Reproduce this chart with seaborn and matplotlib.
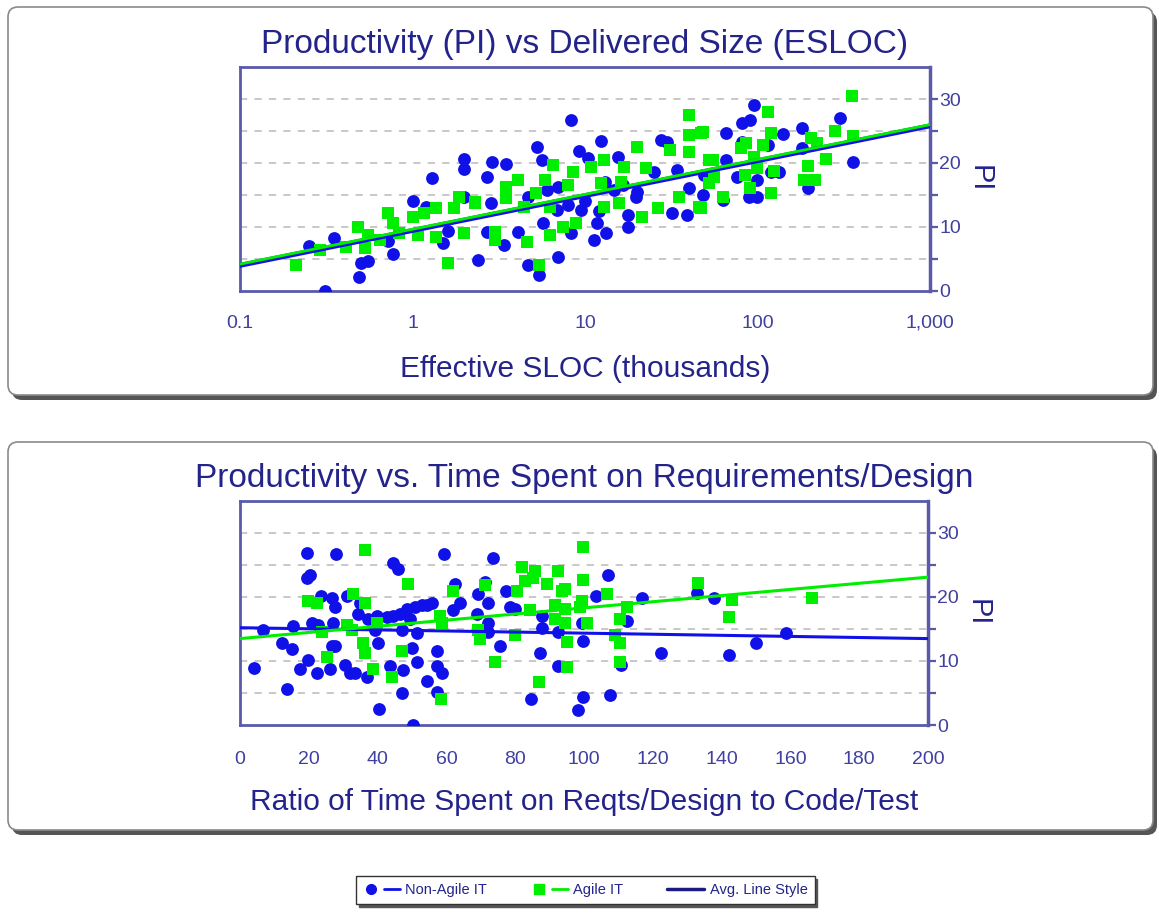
import numpy as np
import matplotlib
matplotlib.use("Agg")
import matplotlib.pyplot as plt
from matplotlib.patches import FancyBboxPatch
from matplotlib.lines import Line2D
from matplotlib.legend_handler import HandlerTuple
from matplotlib.ticker import FuncFormatter, FixedLocator, LogLocator
import seaborn as sns

# --- data ---
# top panel: effective SLOC (thousands) vs PI
nonagile_size = [0.25, 0.35, 0.31, 0.49, 0.50, 0.55, 0.72, 0.77, 1.0, 1.29, 1.2, 1.5, 1.6, 2.0, 2.0, 2.4, 2.0,
                 8.3, 5.3, 2.9, 3.5, 2.7, 5.6, 9.2, 12.3, 10.4, 15.5, 27.5, 30, 4.7, 5.4, 7.0, 2.7, 3.4, 4.1,
                 5.7, 6.9, 8.3, 11.3, 13.2, 11.8, 9.5, 17.7, 17.7, 19.7, 32, 39, 40, 2.85, 4.7, 7.0, 14.7, 25, 34,
                 95, 90, 81, 66, 140, 180, 300, 360, 81, 115, 180, 66, 49, 76, 100, 134, 120, 195, 63, 89, 100, 48,
                 6.0, 10.0, 13.0, 16.5, 20, 8.0, 12]
nonagile_pi_size = [7.0, 8.3, 0.0, 2.2, 4.4, 4.7, 7.8, 5.8, 14.0, 17.6, 13.1, 7.5, 9.4, 20.6, 19.1, 4.8, 14.7,
                    26.7, 22.5, 20.2, 19.8, 17.8, 20.5, 21.9, 23.4, 20.8, 21.0, 23.6, 23.3, 4.1, 2.5, 5.3, 9.2, 7.2, 9.2,
                    10.6, 12.7, 9.1, 8.0, 9.1, 10.6, 12.7, 10.0, 11.9, 14.7, 12.2, 11.9, 16.1, 13.8, 14.7, 16.3, 15.8, 18.6, 18.9,
                    29.1, 26.7, 26.3, 24.7, 24.5, 25.5, 27.0, 20.2, 23.3, 22.8, 22.3, 20.5, 18.1, 17.8, 17.3, 18.6, 18.6, 16.1, 14.2, 14.7, 14.7, 15.0,
                    15.8, 14.0, 17.0, 16.5, 15.5, 13.5, 12.5]

agile_size = [0.21, 0.29, 0.41, 0.48, 0.53, 0.55, 0.65, 0.72, 0.77, 0.83, 1.0, 1.07, 1.17, 1.37, 1.37, 1.6, 1.73, 1.85, 1.98, 2.3,
              40, 47, 40, 40, 20, 31, 12.9, 6.5, 8.5, 10.8, 16.9, 22.5, 4.1, 3.5, 5.9, 8.0, 12.3, 16.2, 2.3, 5.2, 4.4,
              12.9, 15.8, 26.5, 46, 21.5, 35, 3.0, 3.0, 4.6, 6.3, 7.5, 8.9, 5.4, 3.5, 6.3, 52,
              355, 115, 48, 280, 360, 120, 86, 80, 108, 205, 220, 55, 96, 250, 195, 56, 85, 125, 52, 90, 185, 215, 120, 63, 47, 100]
agile_pi_size = [4.1, 6.4, 6.9, 10.0, 6.7, 8.8, 8.0, 12.2, 10.6, 9.0, 11.6, 8.8, 12.2, 13.0, 8.4, 4.4, 13.0, 14.7, 9.1, 13.8,
                 27.5, 24.7, 24.4, 21.7, 22.5, 22.0, 20.5, 19.7, 18.6, 19.4, 19.4, 19.2, 17.3, 16.3, 17.3, 16.6, 16.9, 17.0, 13.9, 15.3, 13.1,
                 13.1, 13.8, 13.0, 13.1, 11.6, 14.7, 9.2, 8.0, 7.7, 8.8, 10.0, 10.6, 4.1, 14.5, 13.1, 20.5,
                 30.5, 28.0, 24.8, 25.0, 24.2, 24.7, 23.1, 22.3, 22.8, 23.9, 23.1, 20.5, 21.0, 20.6, 19.5, 17.8, 18.1, 18.8, 16.9, 16.1, 17.3, 17.3, 15.3, 14.7, 13.0, 19.2]

# bottom panel: ratio reqts/design to code/test vs PI
nonagile_ratio = [4.1, 6.8, 13.6, 12.3, 15.0, 15.5, 19.4, 19.4, 20.3, 17.4, 19.8, 22.4, 20.9, 22.7, 23.5, 26.7, 27.6, 27.9,
                  26.2, 26.7, 27.6, 27.0, 31.1, 30.5, 32.0, 33.4, 34.9, 34.3, 36.9, 37.2, 39.8, 39.2, 40.1, 40.4, 42.7,
                  44.5, 44.5, 45.9, 43.6, 47.1, 46.5, 48.5, 49.4, 47.4, 50.0, 47.1, 50.3, 51.5, 51.5, 50.9, 52.9, 54.4,
                  55.8, 54.4, 57.3, 57.3, 57.3, 58.7, 59.3, 62.5, 61.9, 64.0, 68.9, 69.2, 71.2, 72.1, 72.1, 72.1, 73.5,
                  75.6, 77.3, 78.5, 80.0, 87.8, 87.8, 87.2, 84.6, 92.4, 92.4, 99.4, 99.7, 98.3, 99.7, 107, 103.5, 107.6,
                  112.5, 110.8, 116.9, 122.4, 132.8, 137.8, 142.2, 150, 158.7]
nonagile_pi_ratio = [8.9, 14.8, 5.7, 12.8, 11.8, 15.4, 26.9, 22.9, 23.5, 8.7, 10.1, 8.2, 15.9, 15.6, 20.1, 19.9, 18.5, 26.7,
                     8.7, 12.4, 12.4, 15.9, 20.2, 9.3, 8.1, 8.1, 19.1, 17.4, 7.5, 16.6, 17.1, 14.8, 12.8, 2.5, 16.8,
                     17.1, 25.3, 24.4, 9.2, 14.8, 17.4, 18.2, 16.6, 8.6, 12.1, 5.0, 0.0, 9.8, 14.3, 18.4, 18.7, 18.7,
                     19.1, 6.8, 5.1, 11.5, 9.2, 8.1, 26.7, 22.1, 18.0, 19.0, 17.4, 20.5, 22.4, 19.0, 16.0, 14.5, 26.1,
                     12.4, 21.0, 18.4, 18.2, 17.1, 15.2, 11.2, 4.0, 14.5, 9.2, 16.0, 13.2, 2.3, 4.4, 23.5, 20.2, 4.7,
                     16.2, 9.3, 19.9, 11.2, 20.7, 19.8, 10.9, 12.8, 14.3]

agile_ratio = [19.8, 22.4, 25.3, 23.8, 31.1, 32.6, 32.8, 36.3, 36.3, 35.8, 36.3, 38.7, 39.8, 44.2, 47.1, 48.8, 58.1, 58.7,
               58.4, 61.9, 69.2, 69.8, 71.2, 74.1, 80.0, 80.5, 82.0, 82.8, 85.8, 85.2, 89.2, 92.4, 86.9, 84.3, 93.6,
               94.5, 91.6, 94.5, 91.6, 94.5, 95.1, 95.1, 99.7, 99.7, 99.4, 98.8, 106.7, 101, 110.5, 110.5, 110.5,
               112.5, 109, 133.1, 143, 142.2, 166.3]
agile_pi_ratio = [19.4, 19.1, 10.6, 14.5, 15.6, 14.8, 20.5, 27.4, 19.1, 12.8, 11.2, 8.7, 15.9, 7.5, 11.5, 22.1, 17.1, 15.9,
                  4.0, 21.0, 14.8, 13.5, 21.8, 9.8, 14.0, 21.0, 24.7, 22.5, 24.1, 22.9, 22.1, 24.1, 6.7, 17.9, 21.0,
                  21.3, 18.7, 18.2, 16.6, 15.9, 12.9, 9.0, 27.8, 22.7, 19.4, 18.4, 20.5, 16.0, 16.6, 12.8, 9.8,
                  18.5, 14.0, 22.2, 19.6, 16.8, 19.8]

# average lines (end points)
avg_size_x = [0.1, 1000]
avg_nonagile_size = [4.0, 25.8]
avg_agile_size = [4.2, 26.0]
avg_ratio_x = [0, 200]
avg_nonagile_ratio = [15.2, 13.5]
avg_agile_ratio = [13.5, 23.1]

BLUE = "#1010e8"
GREEN = "#00ee00"
AXC = "#5a5aa8"
TXT = "#23238a"
TICKTXT = "#4040a0"

sns.set_style("white")
plt.rcParams["font.family"] = ["Liberation Sans", "DejaVu Sans"]

fig = plt.figure(figsize=(11.59, 9.13), dpi=100)

# panel boxes with shadow, kept behind the axes
for y0 in (5.18, 0.83):
    shadow = FancyBboxPatch((0.12, y0 - 0.05), 11.45, 3.88, boxstyle="round,pad=0,rounding_size=0.1",
                            transform=fig.dpi_scale_trans, facecolor="#555555", edgecolor="none", zorder=-2)
    box = FancyBboxPatch((0.08, y0), 11.45, 3.88, boxstyle="round,pad=0,rounding_size=0.1",
                         transform=fig.dpi_scale_trans, facecolor="white", edgecolor="#8a8a8a", lw=1.2, zorder=-1)
    fig.patches.extend([shadow, box])

ax1 = fig.add_axes([0.2071, 0.6813, 0.5953, 0.2453])
ax2 = fig.add_axes([0.2071, 0.2059, 0.5936, 0.2454])
for ax in (ax1, ax2):
    ax.set_zorder(1)


def style(ax):
    ax.set_ylim(0, 35)
    ax.yaxis.tick_right()
    ax.yaxis.set_label_position("right")
    ax.yaxis.set_major_locator(FixedLocator([0, 10, 20, 30]))
    ax.yaxis.set_minor_locator(FixedLocator([5, 15, 25]))
    ax.grid(False)
    for y in [5, 10, 15, 20, 25, 30]:
        ax.axhline(y, color="#c4c4c4", lw=1.3, ls=(0, (4, 4)), zorder=0)
    for s in ax.spines.values():
        s.set_visible(True)
        s.set_color(AXC)
        s.set_linewidth(2)
    ax.spines["right"].set_linewidth(2.5)
    ax.tick_params(axis="both", which="major", direction="out", length=8, width=1.6, color=AXC,
                   labelcolor=TICKTXT, labelsize=14)
    ax.tick_params(axis="both", which="minor", direction="out", length=5, width=1.6, color=AXC)
    ax.tick_params(axis="y", which="both", left=False, right=True, length=6, pad=0.5)
    ax.set_ylabel("PI", rotation=270, fontsize=21, color=TXT, labelpad=24)


# top panel
sns.scatterplot(x=nonagile_size, y=nonagile_pi_size, ax=ax1, marker="o", color=BLUE, s=85, linewidth=0, zorder=3)
sns.scatterplot(x=agile_size, y=agile_pi_size, ax=ax1, marker="s", color=GREEN, s=75, linewidth=0, zorder=3)
sns.lineplot(x=avg_size_x, y=avg_nonagile_size, ax=ax1, color=BLUE, lw=3.5, zorder=4)
sns.lineplot(x=avg_size_x, y=avg_agile_size, ax=ax1, color=GREEN, lw=2, zorder=5)
ax1.set_xscale("log")
ax1.set_xlim(0.1, 1000)
ax1.xaxis.set_major_locator(LogLocator(base=10, numticks=10))
ax1.xaxis.set_minor_locator(LogLocator(base=10, subs=np.arange(2, 10), numticks=100))
ax1.xaxis.set_major_formatter(FuncFormatter(lambda v, p: f"{v:,.0f}" if v >= 1 else f"{v:g}"))
style(ax1)
ax1.tick_params(axis="x", which="major", length=10, pad=7)
ax1.set_title("Productivity (PI) vs Delivered Size (ESLOC)", fontsize=24, color=TXT, pad=10)
ax1.set_xlabel("Effective SLOC (thousands)", fontsize=21.5, color=TXT, labelpad=17)

# bottom panel
sns.scatterplot(x=nonagile_ratio, y=nonagile_pi_ratio, ax=ax2, marker="o", color=BLUE, s=85, linewidth=0, zorder=3)
sns.scatterplot(x=agile_ratio, y=agile_pi_ratio, ax=ax2, marker="s", color=GREEN, s=75, linewidth=0, zorder=3)
sns.lineplot(x=avg_ratio_x, y=avg_nonagile_ratio, ax=ax2, color=BLUE, lw=2.2, zorder=4)
sns.lineplot(x=avg_ratio_x, y=avg_agile_ratio, ax=ax2, color=GREEN, lw=2.2, zorder=5)
ax2.set_xlim(0, 200)
ax2.xaxis.set_major_locator(FixedLocator(np.arange(0, 201, 20)))
style(ax2)
ax2.tick_params(axis="x", which="major", pad=11)
ax2.set_title("Productivity vs. Time Spent on Requirements/Design", fontsize=24, color=TXT, pad=10)
ax2.set_xlabel("Ratio of Time Spent on Reqts/Design to Code/Test", fontsize=21.5, color=TXT, labelpad=14)

# legend
h_non = (Line2D([], [], marker="o", ls="none", color=BLUE, markersize=7),
         Line2D([], [], ls="-", color=BLUE, lw=2))
h_agi = (Line2D([], [], marker="s", ls="none", color=GREEN, markersize=7),
         Line2D([], [], ls="-", color=GREEN, lw=2))
h_avg = Line2D([], [], ls="-", color="#1a1a80", lw=2.5)
leg = fig.legend([h_non, h_agi, h_avg], ["Non-Agile IT", "Agile IT", "Avg. Line Style"],
                 handler_map={tuple: HandlerTuple(ndivide=None, pad=0.3)},
                 loc="center", bbox_to_anchor=(0.505, 0.025), ncol=3, frameon=True, fancybox=False,
                 shadow={"color": "#555555", "alpha": 1}, edgecolor="#333333", fontsize=10.5, columnspacing=3,
                 handlelength=2.5, handletextpad=0.4, borderpad=0.5)
leg.set_zorder(5)
for t in leg.get_texts():
    t.set_color(TXT)
    t.set_family(["Liberation Sans Narrow", "Liberation Sans", "DejaVu Sans"])

fig.savefig("out.png", dpi=100)
